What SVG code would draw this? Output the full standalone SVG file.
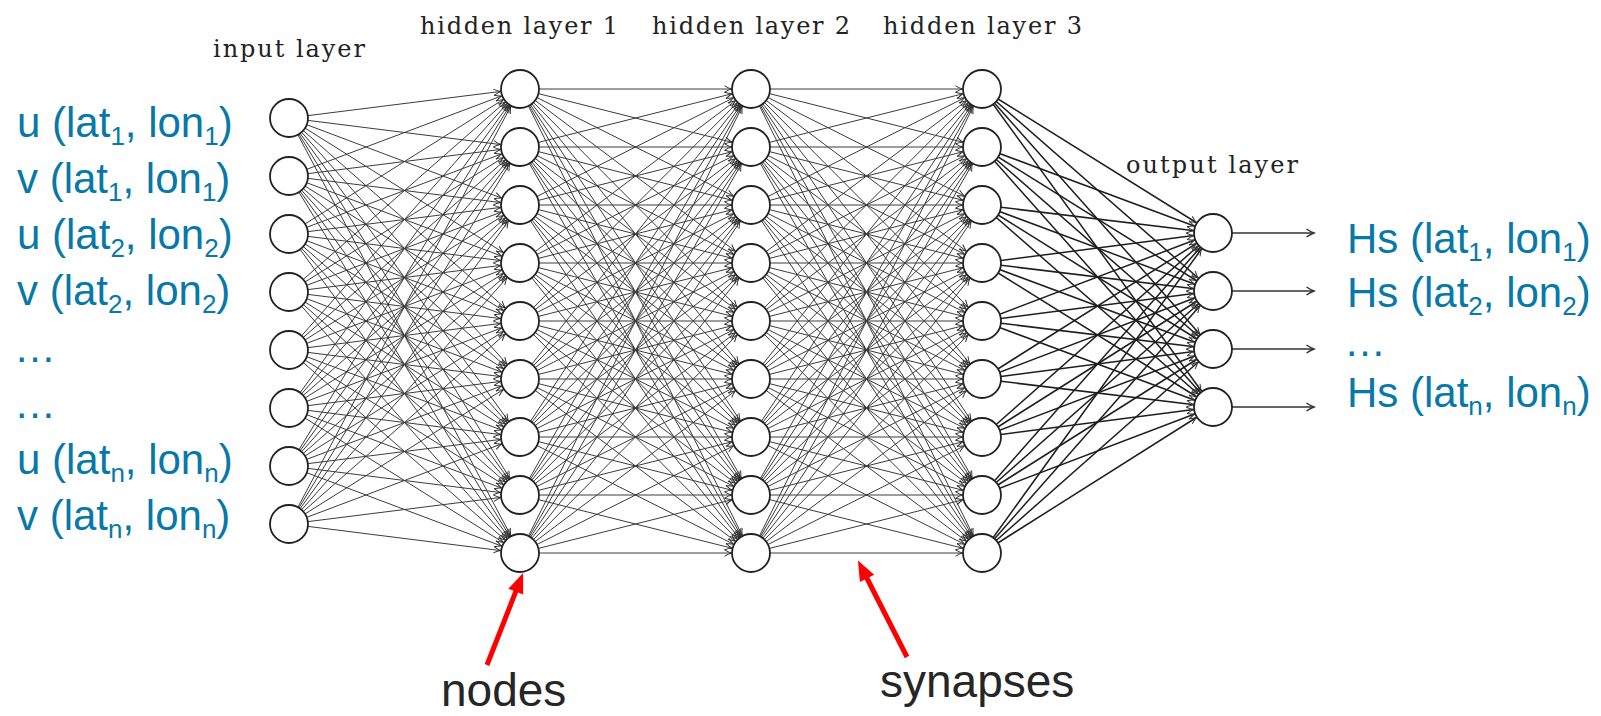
<svg xmlns="http://www.w3.org/2000/svg" width="1601" height="716" viewBox="0 0 1601 716">
<style>
.s path{fill:none;stroke:#3c3c3c;stroke-width:1;marker-end:url(#ah)}
.t path{fill:none;stroke:#1e1e1e;stroke-width:1.5;marker-end:url(#ah)}
.o path{fill:none;stroke:#333;stroke-width:1.5;marker-end:url(#ao)}
.r path{fill:none;stroke:#f00;stroke-width:5;marker-end:url(#ar)}
.n circle{fill:#fff;stroke:#222;stroke-width:1.8}
.lab{font-family:"Liberation Sans",Arial,sans-serif;font-size:42px;fill:#0779A9}
.sub{font-size:26px}
.cm{font-family:"DejaVu Serif","Liberation Serif",serif;font-size:24px;fill:#222}
.ann{font-family:"Liberation Sans",Arial,sans-serif;font-size:46px;fill:#262626}
</style>
<defs>
<marker id="ah" markerUnits="userSpaceOnUse" viewBox="-30 -6 30 12" markerWidth="30" markerHeight="12" refX="0" refY="0" orient="auto">
<path d="M-26.5,-3.2 Q-22.5,-0.8 -19.5,0 Q-22.5,0.8 -26.5,3.2" fill="none" stroke="#333" stroke-width="1"/>
</marker>
<marker id="ao" markerUnits="userSpaceOnUse" viewBox="-10 -6 12 12" markerWidth="12" markerHeight="12" refX="0" refY="0" orient="auto">
<path d="M-7.5,-4 Q-3,-1 0,0 Q-3,1 -7.5,4" fill="none" stroke="#333" stroke-width="1.5"/>
</marker>
<marker id="ar" markerUnits="userSpaceOnUse" viewBox="-12 -10 24 20" markerWidth="24" markerHeight="20" refX="0" refY="0" orient="auto">
<path d="M-10,-8 L10,0 L-10,8 Z" fill="#f00"/>
</marker>
</defs>
<rect width="1601" height="716" fill="#fff"/>
<g id="connectors">
<g class="s" id="in-h1">
<path d="M289 118L520 89"/><path d="M289 118L520 147"/><path d="M289 118L520 205"/><path d="M289 118L520 263"/><path d="M289 118L520 321"/><path d="M289 118L520 379"/><path d="M289 118L520 437"/><path d="M289 118L520 495"/><path d="M289 118L520 553"/>
<path d="M289 176L520 89"/><path d="M289 176L520 147"/><path d="M289 176L520 205"/><path d="M289 176L520 263"/><path d="M289 176L520 321"/><path d="M289 176L520 379"/><path d="M289 176L520 437"/><path d="M289 176L520 495"/><path d="M289 176L520 553"/>
<path d="M289 234L520 89"/><path d="M289 234L520 147"/><path d="M289 234L520 205"/><path d="M289 234L520 263"/><path d="M289 234L520 321"/><path d="M289 234L520 379"/><path d="M289 234L520 437"/><path d="M289 234L520 495"/><path d="M289 234L520 553"/>
<path d="M289 292L520 89"/><path d="M289 292L520 147"/><path d="M289 292L520 205"/><path d="M289 292L520 263"/><path d="M289 292L520 321"/><path d="M289 292L520 379"/><path d="M289 292L520 437"/><path d="M289 292L520 495"/><path d="M289 292L520 553"/>
<path d="M289 350L520 89"/><path d="M289 350L520 147"/><path d="M289 350L520 205"/><path d="M289 350L520 263"/><path d="M289 350L520 321"/><path d="M289 350L520 379"/><path d="M289 350L520 437"/><path d="M289 350L520 495"/><path d="M289 350L520 553"/>
<path d="M289 408L520 89"/><path d="M289 408L520 147"/><path d="M289 408L520 205"/><path d="M289 408L520 263"/><path d="M289 408L520 321"/><path d="M289 408L520 379"/><path d="M289 408L520 437"/><path d="M289 408L520 495"/><path d="M289 408L520 553"/>
<path d="M289 466L520 89"/><path d="M289 466L520 147"/><path d="M289 466L520 205"/><path d="M289 466L520 263"/><path d="M289 466L520 321"/><path d="M289 466L520 379"/><path d="M289 466L520 437"/><path d="M289 466L520 495"/><path d="M289 466L520 553"/>
<path d="M289 524L520 89"/><path d="M289 524L520 147"/><path d="M289 524L520 205"/><path d="M289 524L520 263"/><path d="M289 524L520 321"/><path d="M289 524L520 379"/><path d="M289 524L520 437"/><path d="M289 524L520 495"/><path d="M289 524L520 553"/>
</g>
<g class="s" id="h1-h2">
<path d="M520 89L751 89"/><path d="M520 89L751 147"/><path d="M520 89L751 205"/><path d="M520 89L751 263"/><path d="M520 89L751 321"/><path d="M520 89L751 379"/><path d="M520 89L751 437"/><path d="M520 89L751 495"/><path d="M520 89L751 553"/>
<path d="M520 147L751 89"/><path d="M520 147L751 147"/><path d="M520 147L751 205"/><path d="M520 147L751 263"/><path d="M520 147L751 321"/><path d="M520 147L751 379"/><path d="M520 147L751 437"/><path d="M520 147L751 495"/><path d="M520 147L751 553"/>
<path d="M520 205L751 89"/><path d="M520 205L751 147"/><path d="M520 205L751 205"/><path d="M520 205L751 263"/><path d="M520 205L751 321"/><path d="M520 205L751 379"/><path d="M520 205L751 437"/><path d="M520 205L751 495"/><path d="M520 205L751 553"/>
<path d="M520 263L751 89"/><path d="M520 263L751 147"/><path d="M520 263L751 205"/><path d="M520 263L751 263"/><path d="M520 263L751 321"/><path d="M520 263L751 379"/><path d="M520 263L751 437"/><path d="M520 263L751 495"/><path d="M520 263L751 553"/>
<path d="M520 321L751 89"/><path d="M520 321L751 147"/><path d="M520 321L751 205"/><path d="M520 321L751 263"/><path d="M520 321L751 321"/><path d="M520 321L751 379"/><path d="M520 321L751 437"/><path d="M520 321L751 495"/><path d="M520 321L751 553"/>
<path d="M520 379L751 89"/><path d="M520 379L751 147"/><path d="M520 379L751 205"/><path d="M520 379L751 263"/><path d="M520 379L751 321"/><path d="M520 379L751 379"/><path d="M520 379L751 437"/><path d="M520 379L751 495"/><path d="M520 379L751 553"/>
<path d="M520 437L751 89"/><path d="M520 437L751 147"/><path d="M520 437L751 205"/><path d="M520 437L751 263"/><path d="M520 437L751 321"/><path d="M520 437L751 379"/><path d="M520 437L751 437"/><path d="M520 437L751 495"/><path d="M520 437L751 553"/>
<path d="M520 495L751 89"/><path d="M520 495L751 147"/><path d="M520 495L751 205"/><path d="M520 495L751 263"/><path d="M520 495L751 321"/><path d="M520 495L751 379"/><path d="M520 495L751 437"/><path d="M520 495L751 495"/><path d="M520 495L751 553"/>
<path d="M520 553L751 89"/><path d="M520 553L751 147"/><path d="M520 553L751 205"/><path d="M520 553L751 263"/><path d="M520 553L751 321"/><path d="M520 553L751 379"/><path d="M520 553L751 437"/><path d="M520 553L751 495"/><path d="M520 553L751 553"/>
</g>
<g class="s" id="h2-h3">
<path d="M751 89L982 89"/><path d="M751 89L982 147"/><path d="M751 89L982 205"/><path d="M751 89L982 263"/><path d="M751 89L982 321"/><path d="M751 89L982 379"/><path d="M751 89L982 437"/><path d="M751 89L982 495"/><path d="M751 89L982 553"/>
<path d="M751 147L982 89"/><path d="M751 147L982 147"/><path d="M751 147L982 205"/><path d="M751 147L982 263"/><path d="M751 147L982 321"/><path d="M751 147L982 379"/><path d="M751 147L982 437"/><path d="M751 147L982 495"/><path d="M751 147L982 553"/>
<path d="M751 205L982 89"/><path d="M751 205L982 147"/><path d="M751 205L982 205"/><path d="M751 205L982 263"/><path d="M751 205L982 321"/><path d="M751 205L982 379"/><path d="M751 205L982 437"/><path d="M751 205L982 495"/><path d="M751 205L982 553"/>
<path d="M751 263L982 89"/><path d="M751 263L982 147"/><path d="M751 263L982 205"/><path d="M751 263L982 263"/><path d="M751 263L982 321"/><path d="M751 263L982 379"/><path d="M751 263L982 437"/><path d="M751 263L982 495"/><path d="M751 263L982 553"/>
<path d="M751 321L982 89"/><path d="M751 321L982 147"/><path d="M751 321L982 205"/><path d="M751 321L982 263"/><path d="M751 321L982 321"/><path d="M751 321L982 379"/><path d="M751 321L982 437"/><path d="M751 321L982 495"/><path d="M751 321L982 553"/>
<path d="M751 379L982 89"/><path d="M751 379L982 147"/><path d="M751 379L982 205"/><path d="M751 379L982 263"/><path d="M751 379L982 321"/><path d="M751 379L982 379"/><path d="M751 379L982 437"/><path d="M751 379L982 495"/><path d="M751 379L982 553"/>
<path d="M751 437L982 89"/><path d="M751 437L982 147"/><path d="M751 437L982 205"/><path d="M751 437L982 263"/><path d="M751 437L982 321"/><path d="M751 437L982 379"/><path d="M751 437L982 437"/><path d="M751 437L982 495"/><path d="M751 437L982 553"/>
<path d="M751 495L982 89"/><path d="M751 495L982 147"/><path d="M751 495L982 205"/><path d="M751 495L982 263"/><path d="M751 495L982 321"/><path d="M751 495L982 379"/><path d="M751 495L982 437"/><path d="M751 495L982 495"/><path d="M751 495L982 553"/>
<path d="M751 553L982 89"/><path d="M751 553L982 147"/><path d="M751 553L982 205"/><path d="M751 553L982 263"/><path d="M751 553L982 321"/><path d="M751 553L982 379"/><path d="M751 553L982 437"/><path d="M751 553L982 495"/><path d="M751 553L982 553"/>
</g>
<g class="t" id="h3-out">
<path d="M982 89L1213 233"/><path d="M982 89L1213 291"/><path d="M982 89L1213 349"/><path d="M982 89L1213 407"/>
<path d="M982 147L1213 233"/><path d="M982 147L1213 291"/><path d="M982 147L1213 349"/><path d="M982 147L1213 407"/>
<path d="M982 205L1213 233"/><path d="M982 205L1213 291"/><path d="M982 205L1213 349"/><path d="M982 205L1213 407"/>
<path d="M982 263L1213 233"/><path d="M982 263L1213 291"/><path d="M982 263L1213 349"/><path d="M982 263L1213 407"/>
<path d="M982 321L1213 233"/><path d="M982 321L1213 291"/><path d="M982 321L1213 349"/><path d="M982 321L1213 407"/>
<path d="M982 379L1213 233"/><path d="M982 379L1213 291"/><path d="M982 379L1213 349"/><path d="M982 379L1213 407"/>
<path d="M982 437L1213 233"/><path d="M982 437L1213 291"/><path d="M982 437L1213 349"/><path d="M982 437L1213 407"/>
<path d="M982 495L1213 233"/><path d="M982 495L1213 291"/><path d="M982 495L1213 349"/><path d="M982 495L1213 407"/>
<path d="M982 553L1213 233"/><path d="M982 553L1213 291"/><path d="M982 553L1213 349"/><path d="M982 553L1213 407"/>
</g>
<g class="o" id="out-arrows">
<path d="M1213 233H1314"/><path d="M1213 291H1314"/><path d="M1213 349H1314"/><path d="M1213 407H1314"/>
</g>
<g class="r" id="red-arrows">
<path d="M487 665L519.4 582.3"/>
<path d="M907 657L862.5 569.5"/>
</g>
</g>
<g class="n" id="nodes">
<g id="in1"><circle cx="289" cy="118" r="19"/></g>
<g id="in2"><circle cx="289" cy="176" r="19"/></g>
<g id="in3"><circle cx="289" cy="234" r="19"/></g>
<g id="in4"><circle cx="289" cy="292" r="19"/></g>
<g id="in5"><circle cx="289" cy="350" r="19"/></g>
<g id="in6"><circle cx="289" cy="408" r="19"/></g>
<g id="in7"><circle cx="289" cy="466" r="19"/></g>
<g id="in8"><circle cx="289" cy="524" r="19"/></g>
<g id="h1n1"><circle cx="520" cy="89" r="19"/></g>
<g id="h1n2"><circle cx="520" cy="147" r="19"/></g>
<g id="h1n3"><circle cx="520" cy="205" r="19"/></g>
<g id="h1n4"><circle cx="520" cy="263" r="19"/></g>
<g id="h1n5"><circle cx="520" cy="321" r="19"/></g>
<g id="h1n6"><circle cx="520" cy="379" r="19"/></g>
<g id="h1n7"><circle cx="520" cy="437" r="19"/></g>
<g id="h1n8"><circle cx="520" cy="495" r="19"/></g>
<g id="h1n9"><circle cx="520" cy="553" r="19"/></g>
<g id="h2n1"><circle cx="751" cy="89" r="19"/></g>
<g id="h2n2"><circle cx="751" cy="147" r="19"/></g>
<g id="h2n3"><circle cx="751" cy="205" r="19"/></g>
<g id="h2n4"><circle cx="751" cy="263" r="19"/></g>
<g id="h2n5"><circle cx="751" cy="321" r="19"/></g>
<g id="h2n6"><circle cx="751" cy="379" r="19"/></g>
<g id="h2n7"><circle cx="751" cy="437" r="19"/></g>
<g id="h2n8"><circle cx="751" cy="495" r="19"/></g>
<g id="h2n9"><circle cx="751" cy="553" r="19"/></g>
<g id="h3n1"><circle cx="982" cy="89" r="19"/></g>
<g id="h3n2"><circle cx="982" cy="147" r="19"/></g>
<g id="h3n3"><circle cx="982" cy="205" r="19"/></g>
<g id="h3n4"><circle cx="982" cy="263" r="19"/></g>
<g id="h3n5"><circle cx="982" cy="321" r="19"/></g>
<g id="h3n6"><circle cx="982" cy="379" r="19"/></g>
<g id="h3n7"><circle cx="982" cy="437" r="19"/></g>
<g id="h3n8"><circle cx="982" cy="495" r="19"/></g>
<g id="h3n9"><circle cx="982" cy="553" r="19"/></g>
<g id="out1"><circle cx="1213" cy="233" r="19"/></g>
<g id="out2"><circle cx="1213" cy="291" r="19"/></g>
<g id="out3"><circle cx="1213" cy="349" r="19"/></g>
<g id="out4"><circle cx="1213" cy="407" r="19"/></g>
</g>
<g id="layer-labels" class="cm">
<text x="213" y="57" textLength="152" lengthAdjust="spacing">input layer</text>
<text x="420" y="34" textLength="198" lengthAdjust="spacing">hidden layer 1</text>
<text x="652" y="34" textLength="198" lengthAdjust="spacing">hidden layer 2</text>
<text x="883" y="34" textLength="199" lengthAdjust="spacing">hidden layer 3</text>
<text x="1126" y="173" textLength="172" lengthAdjust="spacing">output layer</text>
</g>
<g id="input-labels" class="lab">
<text x="17" y="137">u (lat<tspan class="sub" dy="8">1</tspan><tspan dy="-8">, lon</tspan><tspan class="sub" dy="8">1</tspan><tspan dy="-8">)</tspan></text>
<text x="17" y="193">v (lat<tspan class="sub" dy="8">1</tspan><tspan dy="-8">, lon</tspan><tspan class="sub" dy="8">1</tspan><tspan dy="-8">)</tspan></text>
<text x="17" y="249">u (lat<tspan class="sub" dy="8">2</tspan><tspan dy="-8">, lon</tspan><tspan class="sub" dy="8">2</tspan><tspan dy="-8">)</tspan></text>
<text x="17" y="305">v (lat<tspan class="sub" dy="8">2</tspan><tspan dy="-8">, lon</tspan><tspan class="sub" dy="8">2</tspan><tspan dy="-8">)</tspan></text>
<text x="14" y="362">…</text>
<text x="14" y="418">…</text>
<text x="17" y="474">u (lat<tspan class="sub" dy="8">n</tspan><tspan dy="-8">, lon</tspan><tspan class="sub" dy="8">n</tspan><tspan dy="-8">)</tspan></text>
<text x="17" y="530">v (lat<tspan class="sub" dy="8">n</tspan><tspan dy="-8">, lon</tspan><tspan class="sub" dy="8">n</tspan><tspan dy="-8">)</tspan></text>
</g>
<g id="output-labels" class="lab">
<text x="1347" y="253">Hs (lat<tspan class="sub" dy="8">1</tspan><tspan dy="-8">, lon</tspan><tspan class="sub" dy="8">1</tspan><tspan dy="-8">)</tspan></text>
<text x="1347" y="307">Hs (lat<tspan class="sub" dy="8">2</tspan><tspan dy="-8">, lon</tspan><tspan class="sub" dy="8">2</tspan><tspan dy="-8">)</tspan></text>
<text x="1344" y="356">…</text>
<text x="1347" y="407">Hs (lat<tspan class="sub" dy="8">n</tspan><tspan dy="-8">, lon</tspan><tspan class="sub" dy="8">n</tspan><tspan dy="-8">)</tspan></text>
</g>
<g id="annotations" class="ann">
<text x="441" y="706">nodes</text>
<text x="880" y="697">synapses</text>
</g>
</svg>
